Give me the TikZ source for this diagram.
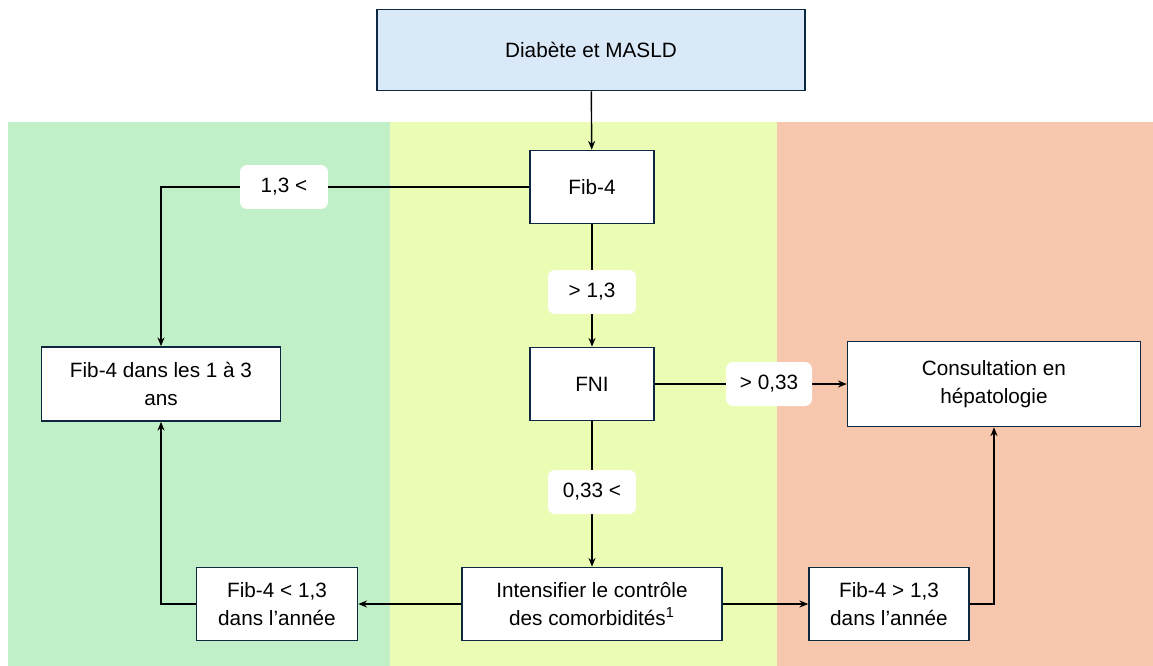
\documentclass[tikz,border=0pt]{standalone}
\usepackage{fontspec}
\setmainfont{Liberation Sans}
\usetikzlibrary{arrows.meta}

\definecolor{bandvert}{RGB}{193,240,200}
\definecolor{bandjaune}{RGB}{235,253,180}
\definecolor{bandsaumon}{RGB}{246,198,173}
\definecolor{bleuclair}{RGB}{218,233,248}
\definecolor{bordure}{RGB}{14,40,65}

\tikzset{
  boite/.style={draw=bordure, line width=0.9pt, fill=white, align=center,
    inner sep=2pt, font=\fontsize{11.8}{16}\selectfont},
  seuil/.style={fill=white, rounded corners=4pt, minimum width=1.76cm,
    minimum height=0.88cm, inner sep=1pt, font=\fontsize{11.8}{14}\selectfont},
  fleche/.style={line width=0.8pt, -{Stealth[length=5pt,width=4pt]}},
  trait/.style={line width=0.8pt}
}

\begin{document}
\begin{tikzpicture}[x=0.02cm, y=-0.02cm]
        \useasboundingbox (0,0) rectangle (1153,666);

        % Bandes de fond
        \fill[bandvert] (8,122) rectangle (390,666);
        \fill[bandjaune] (390,122) rectangle (777,666);
        \fill[bandsaumon] (777,122) rectangle (1153,666);

        % Boites
        \node[boite, fill=bleuclair, minimum width=8.56cm, minimum height=1.62cm] (diab) at (591,50) {Diabète et MASLD};
        \node[boite, minimum width=2.48cm, minimum height=1.46cm] (fib) at (592,187) {Fib-4};
        \node[boite, minimum width=2.48cm, minimum height=1.46cm] (fni) at (592,384) {FNI};
        \node[boite, minimum width=4.78cm, minimum height=1.48cm] (suivi) at (161,384) {Fib-4 dans les 1 à 3\\ans};
        \node[boite, minimum width=5.86cm, minimum height=1.70cm] (consult) at (994,384) {Consultation en\\hépatologie};
        \node[boite, minimum width=5.20cm, minimum height=1.46cm] (intens) at (592,604) {Intensifier le contrôle\\des comorbidités\textsuperscript{1}};
        \node[boite, minimum width=3.22cm, minimum height=1.46cm] (bas) at (277,604) {Fib-4 < 1,3\\dans l’année};
        \node[boite, minimum width=3.20cm, minimum height=1.46cm] (haut) at (889,604) {Fib-4 > 1,3\\dans l’année};

        % Liaisons
        \draw[fleche] (diab) -- (fib);
        \draw[fleche] (fib.west) -| (suivi.north);
        \draw[fleche] (fib) -- (fni);
        \draw[fleche] (fni) -- (consult);
        \draw[fleche] (fni) -- (intens);
        \draw[fleche] (intens) -- (bas);
        \draw[fleche] (intens) -- (haut);
        \draw[fleche] (bas.west) -| (suivi.south);
        \draw[fleche] (haut.east) -| (consult.south);

        % Seuils
        \node[seuil] (s1) at (284,187) {1,3 <};
        \node[seuil] (s2) at (592,292) {> 1,3};
        \node[seuil, minimum width=1.72cm] (s3) at (769,384) {> 0,33};
        \node[seuil] (s4) at (592,492) {0,33 <};
\end{tikzpicture}
\end{document}
